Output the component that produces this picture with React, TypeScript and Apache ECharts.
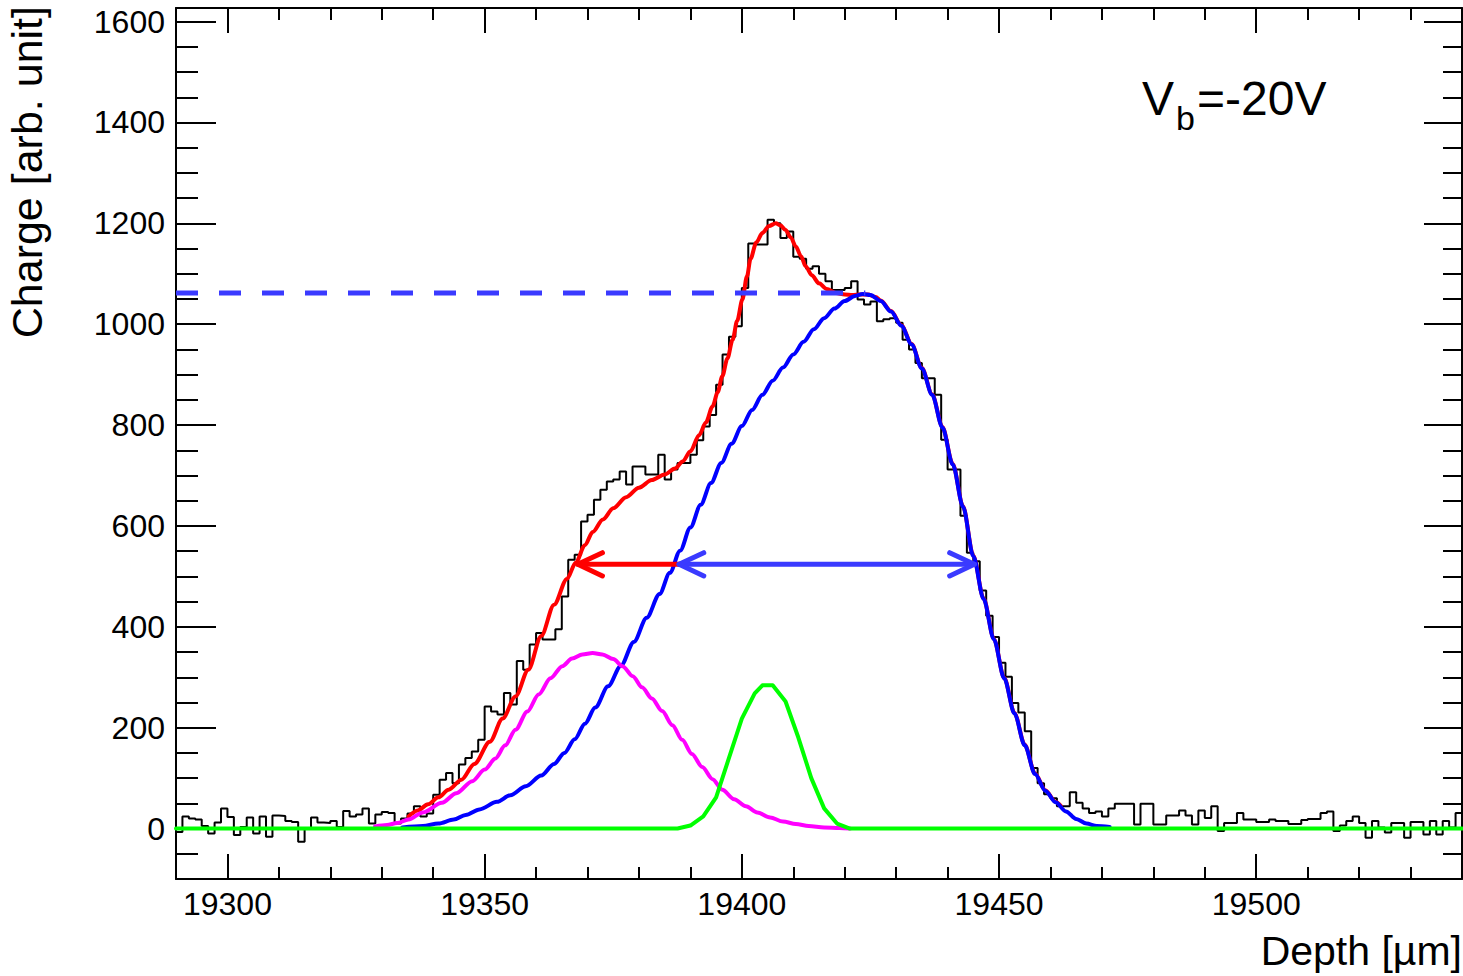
import { useEffect, useRef } from "react";
import * as echarts from "echarts";

// ---------- data ----------
const BIN_LOW = 19290;
const BIN_WIDTH = 1.25;

// measured charge per depth bin (1.25 um bins starting at 19290 um)
const histValues: number[] = [
  -7, 24, 20, 18, 5, -10, 12, 40, 23, -13,
  3, 22, -10, 24, -16, 26, 25, 15, 13, -26,
  0, 22, 12, 11, 15, 3, 35, 24, 28, 40,
  10, 28, 33, 31, 10, 20, 30, 44, 24, 30,
  67, 97, 110, 90, 127, 140, 153, 176, 242, 232,
  226, 269, 246, 332, 315, 365, 388, 375, 375, 395,
  460, 533, 543, 609, 622, 652, 672, 688, 692, 708,
  682, 718, 718, 702, 702, 741, 692, 712, 725, 725,
  741, 770, 797, 820, 880, 940, 975, 996, 1072, 1160,
  1158, 1158, 1207, 1200, 1171, 1184, 1134, 1130, 1110, 1115,
  1100, 1085, 1068, 1068, 1072, 1085, 1049, 1039, 1045, 1006,
  1010, 1012, 1003, 969, 950, 923, 893, 893, 860, 771,
  712, 712, 620, 547, 530, 472, 422, 380, 329, 301,
  249, 230, 193, 120, 90, 68, 60, 44, 44, 72,
  51, 40, 31, 34, 24, 40, 49, 49, 49, 8,
  49, 49, 8, 8, 26, 26, 36, 26, 8, 36,
  21, 44, -5, 11, 11, 31, 18, 18, 13, 13,
  18, 15, 15, 9, 9, 17, 19, 19, 31, 34,
  -5, 6, 15, 24, 11, -18, 15, 2, -8, 11,
  11, -18, 13, 13, -12, 15, -12, 15, 2, 31,
];

// total fit (red)
const totalFit: number[][] = [
  [19335.2, 24], [19337, 36], [19339, 48], [19341, 62], [19343, 77], [19345.5, 97],
  [19348, 128], [19351, 172], [19353.5, 218], [19356, 262], [19358.5, 315], [19361, 382],
  [19363.5, 444], [19366, 495], [19367.7, 527], [19369.5, 562], [19371, 588], [19373, 613],
  [19375, 635], [19377.5, 657], [19380, 676], [19382.5, 691], [19385, 702], [19387, 714],
  [19388.5, 728], [19390, 748], [19391.7, 780], [19393, 805], [19394.3, 837], [19395.3, 865],
  [19396.2, 897], [19397.2, 932], [19398.2, 969], [19399.1, 1007], [19400.1, 1049], [19401, 1095],
  [19401.7, 1130], [19402.8, 1162], [19404, 1181], [19405.3, 1195], [19406.6, 1200], [19407.5, 1196],
  [19408.5, 1187], [19409.5, 1172], [19410.5, 1154], [19411.5, 1135], [19412.4, 1115], [19413.6, 1097],
  [19415, 1081], [19416.5, 1070], [19418.3, 1062], [19420, 1059], [19421.5, 1058], [19423, 1059],
  [19424.5, 1059], [19426, 1054], [19427, 1047], [19429, 1026], [19431, 998], [19433, 961],
  [19435, 913], [19437, 861], [19439, 796], [19441, 723], [19443, 639], [19445, 541],
  [19447, 456], [19449, 376], [19451, 299], [19453, 229], [19455, 166], [19457, 109],
  [19459, 76], [19461, 53], [19462, 45],
];

// main (broad) component (blue)
const mainComponent: number[][] = [
  [19334, 2], [19338, 5], [19341, 10], [19344, 18], [19346.3, 27], [19349, 38],
  [19352.4, 53], [19355, 66], [19358, 84], [19361, 105], [19363.5, 128], [19365.5, 150],
  [19367.5, 177], [19369.5, 208], [19371.5, 240], [19374, 282], [19376.5, 323], [19379, 370],
  [19381.5, 418], [19384, 465], [19386, 507], [19388, 551], [19390, 597], [19392, 642],
  [19394, 685], [19396, 725], [19398, 763], [19400, 798], [19402, 830], [19404, 860],
  [19406, 888], [19408, 914], [19410, 940], [19412, 965], [19414, 990], [19416, 1012],
  [19418, 1031], [19420, 1046], [19422, 1056], [19423.5, 1060], [19425, 1058], [19427, 1046],
  [19429, 1025], [19431, 997], [19433, 960], [19435, 912], [19437, 860], [19439, 795],
  [19441, 722], [19443, 638], [19445, 540], [19447, 455], [19449, 375], [19451, 298],
  [19453, 228], [19455, 165], [19457, 108], [19459, 75], [19461, 52], [19463, 34],
  [19465, 19], [19467, 10], [19469, 5], [19471.5, 3],
];

// low-depth component (magenta)
const lowPeak: number[][] = [
  [19328.7, 4], [19331, 7], [19333, 11], [19335.2, 18], [19338, 32], [19341.7, 51],
  [19344.5, 70], [19347.6, 94], [19350, 117], [19352.1, 139], [19354, 165], [19356, 196],
  [19358.3, 232], [19360.5, 266], [19362.8, 298], [19365.1, 322], [19367, 337], [19369, 345],
  [19371, 348], [19372.9, 345], [19375, 336], [19376.8, 322], [19378.8, 302], [19380.6, 280],
  [19382.5, 258], [19384.5, 233], [19386.5, 205], [19388.4, 176], [19390.3, 148], [19392.3, 122],
  [19394.3, 98], [19396.2, 77], [19398.5, 58], [19400.8, 44], [19403, 32], [19405.5, 22],
  [19408, 14], [19410.5, 9], [19413, 5], [19416, 2], [19419, 1], [19421, 0],
];

// narrow component (green)
const narrowPeak: number[][] = [
  [19290, 0], [19387.5, 0], [19390, 6], [19392.5, 24], [19395, 62], [19397.5, 140],
  [19400, 218], [19402.5, 268], [19404, 284], [19406, 284], [19408.5, 252], [19411, 180],
  [19413.5, 100], [19416, 40], [19418.5, 10], [19421, 0], [19540, 0],
];

// annotation values
const plateauLevel = 1062;
const plateauStart = 19290;
const plateauEnd = 19424;
const halfLevel = 524;
const redArrowTip = 19368.1;
const blueArrowLeft = 19387.8;
const blueArrowRight = 19445.2;
const headDx = 4.8;
const headDy = 23;

// axes
const X_MIN = 19290;
const X_MAX = 19540;
const Y_MIN = -100;
const Y_MAX = 1627;
const xMajorTicks = [19300, 19350, 19400, 19450, 19500];
const xMinorTicks = [
  19290, 19310, 19320, 19330, 19340, 19360, 19370, 19380, 19390, 19410, 19420, 19430,
  19440, 19460, 19470, 19480, 19490, 19510, 19520, 19530, 19540,
];
const yMajorTicks = [0, 200, 400, 600, 800, 1000, 1200, 1400, 1600];
const yMinorTicks = [
  -50, 50, 100, 150, 250, 300, 350, 450, 500, 550, 650, 700, 750, 850, 900, 950,
  1050, 1100, 1150, 1250, 1300, 1350, 1450, 1500, 1550,
];

const FONT = '"Liberation Sans", Arial, Helvetica, sans-serif';
const plainNumber = (v: number) => String(v);

function xAxisDef(position: string, ticks: number[], len: number, withLine: boolean, withLabels: boolean) {
  return {
    type: "value",
    min: X_MIN,
    max: X_MAX,
    position,
    axisLine: { show: withLine, onZero: false, lineStyle: { color: "#000", width: 2 } },
    axisTick: { show: true, inside: true, length: len, customValues: ticks, lineStyle: { color: "#000", width: 2 } },
    axisLabel: withLabels
      ? { show: true, customValues: ticks, formatter: plainNumber, margin: 9, fontSize: 32, color: "#000", fontFamily: FONT }
      : { show: false },
    splitLine: { show: false },
  };
}

function yAxisDef(position: string, ticks: number[], len: number, withLine: boolean, withLabels: boolean) {
  return {
    type: "value",
    min: Y_MIN,
    max: Y_MAX,
    position,
    axisLine: { show: withLine, onZero: false, lineStyle: { color: "#000", width: 2 } },
    axisTick: { show: true, inside: true, length: len, customValues: ticks, lineStyle: { color: "#000", width: 2 } },
    axisLabel: withLabels
      ? { show: true, customValues: ticks, formatter: plainNumber, margin: 11, fontSize: 32, color: "#000", fontFamily: FONT }
      : { show: false },
    splitLine: { show: false },
  };
}

function lineSeries(data: number[][], color: string, width: number, extra: any = {}) {
  return {
    type: "line",
    data,
    xAxisIndex: 0,
    yAxisIndex: 0,
    showSymbol: false,
    symbol: "none",
    silent: true,
    smooth: extra.smooth || false,
    smoothMonotone: extra.smooth ? "x" : undefined,
    lineStyle: { color, width, cap: "round", join: "round", ...(extra.lineStyle || {}) },
  };
}

export default function App() {
  const ref = useRef<HTMLDivElement>(null);

  useEffect(() => {
    document.body.style.margin = "0";
    const chart = echarts.init(ref.current!, null, { renderer: "svg" });

    const histData: number[][] = histValues.map((v, i) => [BIN_LOW + i * BIN_WIDTH, v]);
    histData.push([BIN_LOW + histValues.length * BIN_WIDTH, histValues[histValues.length - 1]]);

    const arrowBlue = "#3a3aff";
    const arrowRed = "#ff0000";

    const option: any = {
      animation: false,
      backgroundColor: "#fff",
      grid: { left: 176, right: 1, top: 8, bottom: 97, containLabel: false },
      xAxis: [
        xAxisDef("bottom", xMajorTicks, 25, true, true),
        xAxisDef("bottom", xMinorTicks, 12, false, false),
        xAxisDef("top", xMajorTicks, 25, true, false),
        xAxisDef("top", xMinorTicks, 12, false, false),
      ],
      yAxis: [
        yAxisDef("left", yMajorTicks, 40, true, true),
        yAxisDef("left", yMinorTicks, 22, false, false),
        yAxisDef("right", yMajorTicks, 38, true, false),
        yAxisDef("right", yMinorTicks, 19, false, false),
      ],
      series: [
        {
          type: "line",
          data: histData,
          step: "end",
          showSymbol: false,
          symbol: "none",
          silent: true,
          lineStyle: { color: "#000", width: 2 },
        },
        lineSeries(totalFit, "#ff0000", 4, { smooth: 0.3 }),
        lineSeries(mainComponent, "#0000ff", 4, { smooth: 0.3 }),
        lineSeries(lowPeak, "#ff00ff", 4, { smooth: 0.3 }),
        lineSeries(narrowPeak, "#00ff00", 4),
        lineSeries(
          [[plateauStart, plateauLevel], [plateauEnd, plateauLevel]],
          arrowBlue,
          5,
          { lineStyle: { type: [22, 21], dashOffset: 0, cap: "butt" } }
        ),
        lineSeries([[blueArrowLeft, halfLevel], [redArrowTip, halfLevel]], arrowRed, 5),
        lineSeries(
          [[redArrowTip + headDx, halfLevel + headDy], [redArrowTip, halfLevel], [redArrowTip + headDx, halfLevel - headDy]],
          arrowRed,
          5
        ),
        lineSeries([[blueArrowLeft, halfLevel], [blueArrowRight, halfLevel]], arrowBlue, 5),
        lineSeries(
          [[blueArrowLeft + headDx, halfLevel + headDy], [blueArrowLeft, halfLevel], [blueArrowLeft + headDx, halfLevel - headDy]],
          arrowBlue,
          5
        ),
        lineSeries(
          [[blueArrowRight - headDx, halfLevel + headDy], [blueArrowRight, halfLevel], [blueArrowRight - headDx, halfLevel - headDy]],
          arrowBlue,
          5
        ),
      ],
      graphic: [
        {
          type: "text",
          x: 27,
          y: 6,
          rotation: Math.PI / 2,
          style: {
            text: "Charge [arb. unit]",
            fontSize: 43,
            fontFamily: FONT,
            fill: "#000",
            align: "right",
            textAlign: "right",
            verticalAlign: "middle",
            textVerticalAlign: "middle",
          },
        },
        {
          type: "text",
          x: 1462,
          y: 951,
          style: {
            text: "Depth [\u00b5m]",
            fontSize: 41,
            fontFamily: FONT,
            fill: "#000",
            align: "right",
            textAlign: "right",
            verticalAlign: "middle",
            textVerticalAlign: "middle",
          },
        },
        {
          type: "text",
          x: 1142,
          y: 98,
          style: {
            text: "V",
            fontSize: 48,
            fontFamily: FONT,
            fill: "#000",
            align: "left",
            textAlign: "left",
            verticalAlign: "middle",
            textVerticalAlign: "middle",
          },
        },
        {
          type: "text",
          x: 1176,
          y: 118,
          style: {
            text: "b",
            fontSize: 34,
            fontFamily: FONT,
            fill: "#000",
            align: "left",
            textAlign: "left",
            verticalAlign: "middle",
            textVerticalAlign: "middle",
          },
        },
        {
          type: "text",
          x: 1197,
          y: 98,
          style: {
            text: "=-20V",
            fontSize: 48,
            fontFamily: FONT,
            fill: "#000",
            align: "left",
            textAlign: "left",
            verticalAlign: "middle",
            textVerticalAlign: "middle",
          },
        },
      ],
    };

    chart.setOption(option);
    return () => chart.dispose();
  }, []);

  return <div ref={ref} style={{ width: 1463, height: 976, overflow: "hidden" }} />;
}
